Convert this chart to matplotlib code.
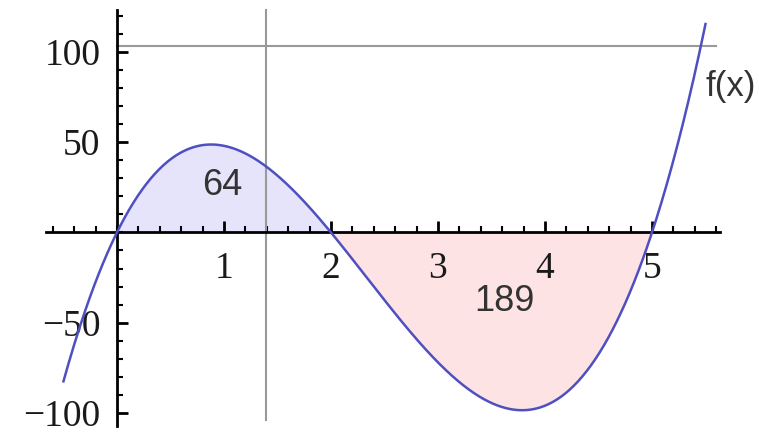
import numpy as np
import matplotlib
matplotlib.use("Agg")
import matplotlib.pyplot as plt

# f(x) = k * x (x - 2) (x - 5), signed areas 64 and -189 between the roots
roots = [0, 2, 5]
k = 12
area_labels = ["64", "189"]
area_pos = [(0.98, 26), (3.62, -38)]
x_ticks = [1, 2, 3, 4, 5]
y_ticks = [-100, -50, 50, 100]
y_tick_labels = ["\u2212100", "\u221250", "50", "100"]
x_line = 1.39      # vertical gray line
y_line = 103.5     # horizontal gray line

coef = k * np.poly(roots)
x = np.linspace(-0.5, 5.5, 600)
y = np.polyval(coef, x)

fig = plt.figure(figsize=(7.59, 4.38), dpi=100)
ax = fig.add_axes([0, 0, 1, 1])
ax.set_xlim(-1.093, 6.0)
ax.set_ylim(-113.9, 128.8)

# shaded areas between curve and x-axis
x1 = np.linspace(roots[0], roots[1], 200)
ax.fill_between(x1, np.polyval(coef, x1), 0, color="#e6e4fb", lw=0, zorder=1)
x2 = np.linspace(roots[1], roots[2], 300)
ax.fill_between(x2, np.polyval(coef, x2), 0, color="#fde3e3", lw=0, zorder=1)

# gray reference lines
ax.plot([x_line, x_line], [-104, 123.5], color="#999999", lw=1.5, zorder=2)
ax.plot([0, 5.6], [y_line, y_line], color="#999999", lw=1.5, zorder=2)

ax.plot(x, y, color="#4f4fc2", lw=1.8, zorder=4)

# axes through the origin
for s in ["top", "right"]:
    ax.spines[s].set_visible(False)
ax.spines["left"].set_position(("data", 0))
ax.spines["bottom"].set_position(("data", 0))
ax.spines["left"].set_bounds(-107, 123.5)
ax.spines["bottom"].set_bounds(-0.66, 5.64)
for s in ["left", "bottom"]:
    ax.spines[s].set_linewidth(2)
    ax.spines[s].set_zorder(3)

ax.set_xticks(x_ticks)
ax.set_xticks(np.arange(-0.6, 5.61, 0.2), minor=True)
ax.set_yticks(y_ticks)
ax.set_yticklabels(y_tick_labels)
ax.set_yticks(np.arange(-100, 121, 10), minor=True)
ax.tick_params(which="major", direction="in", length=8, width=2,
               labelsize=27)
ax.tick_params(axis="x", which="major", pad=14)
ax.tick_params(axis="y", which="major", pad=12)
ax.tick_params(which="minor", direction="in", length=4, width=1.5)
for lab in ax.get_xticklabels() + ax.get_yticklabels():
    lab.set_family("Liberation Serif")
    lab.set_color("#1a1a1a")

for txt, (px, py) in zip(area_labels, area_pos):
    ax.text(px, py, txt, fontsize=26, family="Liberation Sans", color="#333333",
            ha="center", va="center", zorder=5)
ax.text(5.5, 81, "f(x)", fontsize=25, family="Liberation Sans", color="#333333",
        ha="left", va="center", zorder=5)

fig.savefig("out.png", dpi=100)
